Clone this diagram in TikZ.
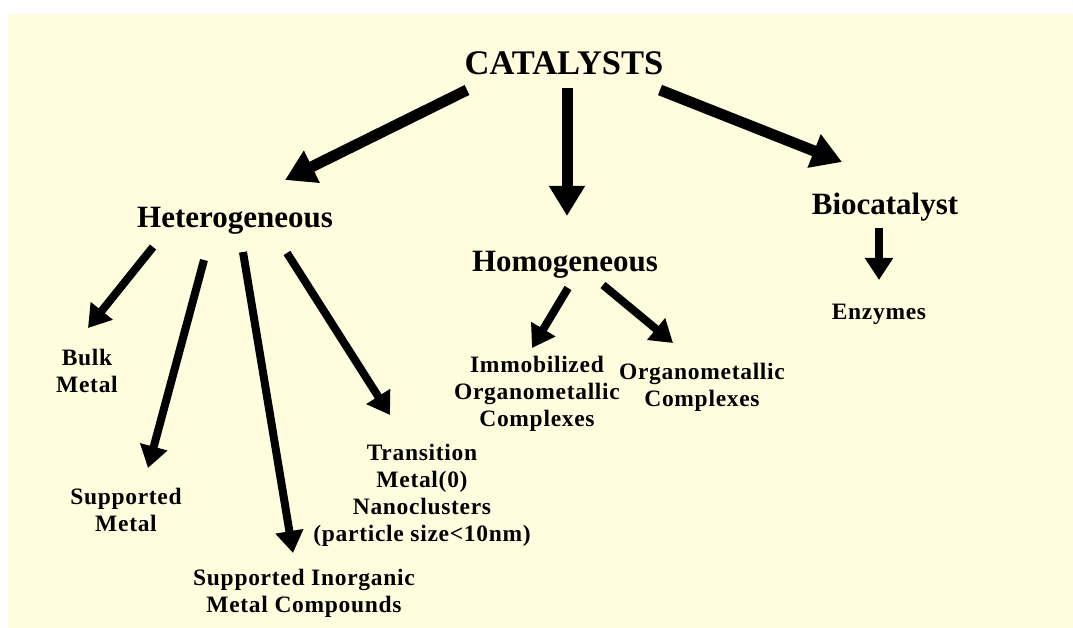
\documentclass[tikz,border=0pt]{standalone}
\usepackage{fontspec}
\setmainfont{Liberation Serif}
\newfontfamily\leaffont[LetterSpace=3]{Liberation Serif}
\usetikzlibrary{arrows.meta}
\definecolor{cream}{RGB}{255,253,222}
\begin{document}
\begin{tikzpicture}[x=1pt,y=-1pt,
  bigarrow/.style={line width=11pt,-{Triangle[length=30pt,width=34pt]}},
  smallarrow/.style={line width=8pt,-{Triangle[length=22pt,width=27pt]}},
  title/.style={font=\bfseries\fontsize{34.5}{40}\selectfont,inner sep=0pt},
  head/.style={font=\bfseries\fontsize{31}{36}\selectfont,inner sep=0pt},
  leaf/.style={font=\leaffont\bfseries\fontsize{23.5}{27}\selectfont,align=center,inner sep=0pt}]
\useasboundingbox (0,0) rectangle (1073,628);
\fill[white] (0,0) rectangle (1073,628);
\fill[cream] (8,14) rectangle (1073,628);

\node[title,anchor=base] (cat) at (564,75) {CATALYSTS};
\node[head,anchor=base] (het) at (235,228) {Heterogeneous};
\node[head,anchor=base] (hom) at (565,272) {Homogeneous};
\node[head,anchor=base] (bio) at (885,215) {Biocatalyst};

\node[leaf] (bulk) at (87,371) {Bulk\\Metal};
\node[leaf] (supm) at (126,510) {Supported\\Metal};
\node[leaf] (supi) at (304,593) {Supported Inorganic\\Metal Compounds};
\node[leaf] (tran) at (422,495) {Transition\\Metal(0)\\Nanoclusters\\(particle size<10nm)};
\node[leaf] (immo) at (537,394) {Immobilized\\Organometallic\\Complexes};
\node[leaf] (orga) at (702,387) {Organometallic\\Complexes};
\node[leaf] (enz) at (879,314) {Enzymes};

% connector end points
\coordinate (c1s) at (467,90);  \coordinate (c1e) at (285,180);
\coordinate (c2s) at (567,88);  \coordinate (c2e) at (567,216);
\coordinate (c3s) at (660,90);  \coordinate (c3e) at (842,162);
\coordinate (b1s) at (879,228); \coordinate (b1e) at (879,280);
\coordinate (h1s) at (153,247); \coordinate (h1e) at (88,328);
\coordinate (h2s) at (204,260); \coordinate (h2e) at (148,468);
\coordinate (h3s) at (243,252); \coordinate (h3e) at (293,553);
\coordinate (h4s) at (287,253); \coordinate (h4e) at (390,415);
\coordinate (m1s) at (568,288); \coordinate (m1e) at (532,348);
\coordinate (m2s) at (603,285); \coordinate (m2e) at (673,343);

\draw[bigarrow] (c1s) -- (c1e);
\draw[bigarrow] (c2s) -- (c2e);
\draw[bigarrow] (c3s) -- (c3e);
\draw[smallarrow] (b1s) -- (b1e);
\draw[smallarrow] (h1s) -- (h1e);
\draw[smallarrow] (h2s) -- (h2e);
\draw[smallarrow] (h3s) -- (h3e);
\draw[smallarrow] (h4s) -- (h4e);
\draw[smallarrow] (m1s) -- (m1e);
\draw[smallarrow] (m2s) -- (m2e);
\end{tikzpicture}
\end{document}
